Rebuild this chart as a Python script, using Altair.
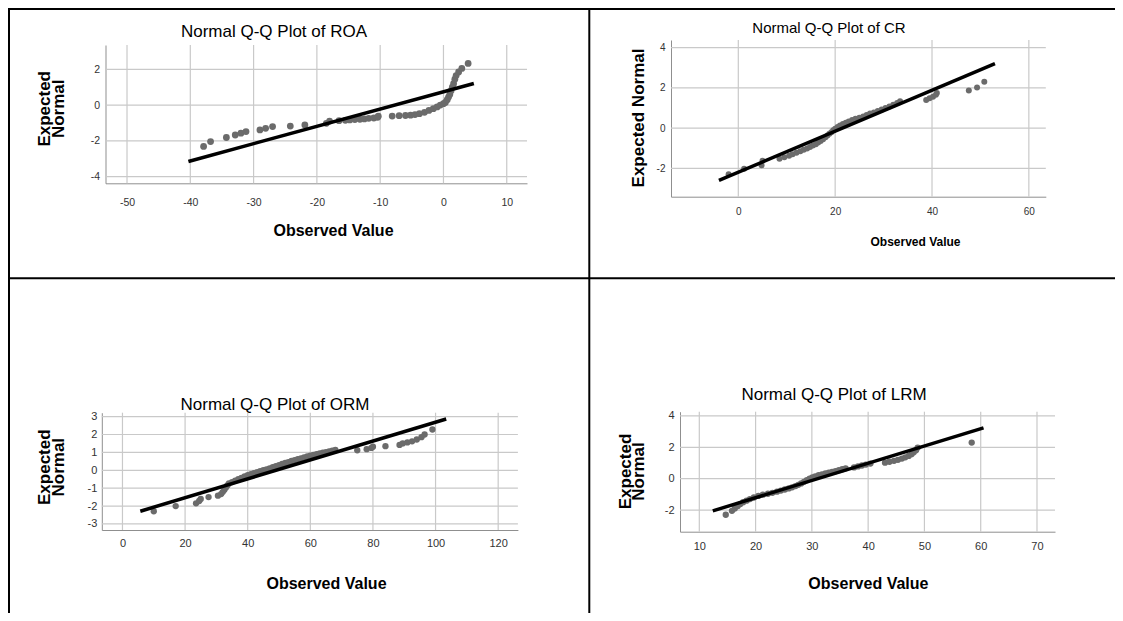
import altair as alt
import pandas as pd

W, H = 1107, 605
FONT = "Liberation Sans"

# ---------------- data ----------------
roa_x = [-37.9, -36.8, -34.3, -32.9, -32.0, -31.2, -29.0, -28.1, -27.0, -24.2, -21.9, -18.5, -18.0,
         -16.5, -15.5, -14.8, -14.0, -13.2, -12.5, -11.8, -11.0, -10.4, -10.3,
         -8.1, -7.0, -6.0, -5.2, -4.5, -3.8, -3.0, -2.3, -1.6, -1.0, -0.5, 0.0, 0.3, 0.6, 0.8,
         1.0, 1.2, 1.4, 1.6, 1.8, 2.0, 2.4, 2.9, 3.9]
roa_y = [-2.31, -2.04, -1.81, -1.67, -1.57, -1.48, -1.39, -1.30, -1.20, -1.17, -1.11, -1.02, -0.89,
         -0.87, -0.85, -0.83, -0.81, -0.79, -0.77, -0.74, -0.72, -0.68, -0.62,
         -0.61, -0.59, -0.58, -0.56, -0.53, -0.48, -0.40, -0.30, -0.20, -0.10, 0.00, 0.08, 0.15, 0.30, 0.45,
         0.60, 0.80, 1.00, 1.20, 1.45, 1.65, 1.85, 2.05, 2.33]
roa_line_x = [-40.3, 4.8]
roa_line_y = [-3.15, 1.21]

cr_x = [-2.0, 1.2, 4.8, 5.0, 8.5, 9.5, 10.5, 11.2, 12.0, 12.8, 13.5, 14.2, 14.8, 15.4, 16.0, 16.5,
        17.0, 17.5, 18.0, 18.4, 18.8, 19.2, 19.6, 20.0, 20.5, 21.0, 21.6, 22.2, 22.8, 23.5, 24.2,
        25.0, 25.8, 26.5, 27.2, 28.0, 28.8, 29.6, 30.4, 31.2, 32.0, 32.8, 33.4, 38.8, 39.5, 40.2,
        40.8, 41.0, 47.6, 49.3, 50.8]
cr_y = [-2.30, -2.02, -1.85, -1.62, -1.52, -1.45, -1.38, -1.30, -1.22, -1.15, -1.08, -1.01, -0.94,
        -0.87, -0.80, -0.72, -0.64, -0.55, -0.46, -0.37, -0.28, -0.20, -0.11, -0.03, 0.05, 0.13,
        0.20, 0.27, 0.33, 0.40, 0.46, 0.52, 0.58, 0.65, 0.72, 0.78, 0.85, 0.92, 1.00, 1.08, 1.16,
        1.25, 1.33, 1.40, 1.48, 1.56, 1.66, 1.75, 1.87, 2.02, 2.30]
cr_line_x = [-4.0, 53.0]
cr_line_y = [-2.6, 3.21]

orm_x = [10, 17, 23.5, 24.5, 25, 27.5, 30.5, 31.5, 32, 32.5, 33, 33.5, 34, 35, 36, 37, 38, 39, 40,
         41, 42, 43, 44, 45, 46, 47, 48, 49, 50, 51, 52, 53, 54, 55, 56, 57, 58, 59, 60, 61, 62, 63,
         64, 65, 66, 67, 68, 75, 78, 79.5, 80, 84, 88.5, 89.5, 91, 92.5, 94, 95.5, 96.5, 99]
orm_y = [-2.29, -2.00, -1.85, -1.72, -1.60, -1.50, -1.42, -1.33, -1.22, -1.10, -0.98, -0.85, -0.74,
         -0.66, -0.58, -0.50, -0.42, -0.35, -0.28, -0.22, -0.16, -0.10, -0.05, 0.00, 0.05, 0.11,
         0.17, 0.23, 0.29, 0.35, 0.41, 0.46, 0.52, 0.57, 0.62, 0.67, 0.72, 0.77, 0.82, 0.86, 0.90,
         0.94, 0.98, 1.02, 1.06, 1.10, 1.14, 1.12, 1.18, 1.25, 1.32, 1.35, 1.42, 1.50, 1.56, 1.62,
         1.72, 1.85, 2.00, 2.28]
orm_line_x = [5.7, 103.4]
orm_line_y = [-2.29, 2.87]

lrm_x = [14.7, 15.8, 16.3, 16.8, 17.3, 17.8, 18.4, 19.0, 19.7, 20.5, 21.3, 22.2, 23.0, 23.8, 24.5,
         25.2, 25.9, 26.5, 27.1, 27.6, 28.1, 28.6, 29.1, 29.6, 30.1, 30.6, 31.2, 31.8, 32.4, 33.0,
         33.6, 34.2, 34.8, 35.4, 36.0, 37.5, 38.2, 38.9, 39.6, 40.4, 43.0, 43.8, 44.6, 45.3, 46.0,
         46.6, 47.2, 47.7, 48.1, 48.5, 48.8, 58.4]
lrm_y = [-2.30, -2.05, -1.90, -1.75, -1.62, -1.50, -1.40, -1.30, -1.20, -1.10, -1.02, -0.96, -0.90,
         -0.83, -0.76, -0.69, -0.62, -0.55, -0.47, -0.39, -0.30, -0.20, -0.10, 0.00, 0.08, 0.15,
         0.22, 0.28, 0.33, 0.38, 0.43, 0.48, 0.54, 0.60, 0.66, 0.72, 0.78, 0.84, 0.90, 0.96, 1.02,
         1.08, 1.14, 1.20, 1.28, 1.36, 1.45, 1.56, 1.68, 1.82, 1.98, 2.30]
lrm_line_x = [12.4, 60.5]
lrm_line_y = [-2.05, 3.24]

panel_titles = ["Normal Q-Q Plot of ROA", "Normal Q-Q Plot of CR",
                "Normal Q-Q Plot of ORM", "Normal Q-Q Plot of LRM"]
x_title = "Observed Value"
y_title_two = ["Expected", "Normal"]
y_title_one = "Expected Normal"

roa_xticks = [-50, -40, -30, -20, -10, 0, 10]
roa_yticks = [-4, -2, 0, 2]
cr_xticks = [0, 20, 40, 60]
cr_yticks = [-2, 0, 2, 4]
orm_xticks = [0, 20, 40, 60, 80, 100, 120]
orm_yticks = [-3, -2, -1, 0, 1, 2, 3]
lrm_xticks = [10, 20, 30, 40, 50, 60, 70]
lrm_yticks = [-2, 0, 2, 4]

GRID = "#c9c9c9"
DOMAIN = "#8f8f8f"
PT = "#6b6b6b"


def panel(xs, ys, lx, ly, xdom, ydom, xr, yr, xticks, yticks, ytitle,
          ytitle_pos, xtitle_pos, tick_fs, xtitle_fs, ytitle_fs, xlab_pad, ylab_pad, pt_size):
    pts = pd.DataFrame({"x": xs, "y": ys})
    ln = pd.DataFrame({"x": lx, "y": ly})
    sx = alt.Scale(domain=xdom, range=xr, nice=False, zero=False)
    sy = alt.Scale(domain=ydom, range=yr, nice=False, zero=False)

    xaxis = alt.Axis(orient="bottom", offset=yr[0] - H, values=xticks, grid=False, ticks=False,
                     domainColor=DOMAIN, domainWidth=1, labelFont=FONT, labelFontSize=tick_fs,
                     labelColor="#333333", labelPadding=xlab_pad, labelExpr="'' + datum.value",
                     title=x_title, titleFont=FONT, titleFontSize=xtitle_fs, titleFontWeight="bold",
                     titleColor="#000000", titleX=xtitle_pos[0], titleY=xtitle_pos[1] - yr[0],
                     titleAlign="center", titleBaseline="middle", labelFlush=False, labelOverlap=False)
    yaxis = alt.Axis(orient="left", offset=-xr[0], values=yticks, grid=False, ticks=False,
                     domainColor=DOMAIN, domainWidth=1, labelFont=FONT, labelFontSize=tick_fs,
                     labelColor="#333333", labelPadding=ylab_pad, labelExpr="'' + datum.value",
                     title=ytitle, titleFont=FONT, titleFontSize=ytitle_fs, titleFontWeight="bold",
                     titleColor="#000000", titleX=ytitle_pos[0] - xr[0], titleY=ytitle_pos[1],
                     titleAngle=270, titleAlign="center", titleBaseline="middle",
                     titleLineHeight=13.5, labelFlush=False, labelOverlap=False)

    vgrid = alt.Chart(pd.DataFrame({"v": xticks})).mark_rule(color=GRID, strokeWidth=1.2).encode(
        x=alt.X("v:Q", scale=sx, axis=xaxis),
        y=alt.Y(datum=ydom[0], scale=sy, axis=yaxis),
        y2=alt.Y2(datum=ydom[1]),
    )
    hgrid = alt.Chart(pd.DataFrame({"v": yticks})).mark_rule(color=GRID, strokeWidth=1.2).encode(
        y=alt.Y("v:Q", scale=sy, axis=yaxis),
        x=alt.X(datum=xdom[0], scale=sx, axis=xaxis),
        x2=alt.X2(datum=xdom[1]),
    )
    points = alt.Chart(pts).mark_circle(color=PT, opacity=1, size=pt_size).encode(
        x=alt.X("x:Q", scale=sx, axis=xaxis),
        y=alt.Y("y:Q", scale=sy, axis=yaxis),
    )
    line = alt.Chart(ln).mark_line(color="#000000", strokeWidth=3.5).encode(
        x=alt.X("x:Q", scale=sx, axis=xaxis),
        y=alt.Y("y:Q", scale=sy, axis=yaxis),
    )
    return alt.layer(vgrid, hgrid, points, line)


p1 = panel(roa_x, roa_y, roa_line_x, roa_line_y, [-53.4, 13.2], [-4.37, 3.36],
           [97.5, 519], [175.3, 37], roa_xticks, roa_yticks, y_title_two,
           (36.5, 100.3), (325, 222), 10.5, 16, 17, 14, 6, 46)
p2 = panel(cr_x, cr_y, cr_line_x, cr_line_y, [-13.9, 63.5], [-3.41, 4.38],
           [663, 1037.8], [188.7, 32], cr_xticks, cr_yticks, y_title_one,
           (630.3, 109.5), (907, 233.7), 10, 12, 17, 10, 6, 36)
p3 = panel(orm_x, orm_y, orm_line_x, orm_line_y, [-6.6, 126.3], [-3.34, 3.22],
           [93.8, 509.9], [522, 404.7], orm_xticks, orm_yticks, y_title_two,
           (36.5, 458.7), (318, 575.3), 11, 16, 17, 7, 5, 40)
p4 = panel(lrm_x, lrm_y, lrm_line_x, lrm_line_y, [6.57, 73.2], [-3.38, 4.27],
           [672, 1047], [523.7, 403.7], lrm_xticks, lrm_yticks, y_title_two,
           (617, 463), (859.9, 575.3), 11, 16, 17, 9, 6, 40)


def title_text(txt, x, y, fs):
    return alt.Chart(pd.DataFrame({"t": [txt]})).mark_text(
        font=FONT, fontSize=fs, color="#000000", align="center", baseline="middle"
    ).encode(text="t:N", x=alt.value(x), y=alt.value(y))


t1 = title_text(panel_titles[0], 266, 24, 17)
t2 = title_text(panel_titles[1], 821, 19.5, 15)
t3 = title_text(panel_titles[2], 267, 397, 17)
t4 = title_text(panel_titles[3], 826, 387, 17)

one = pd.DataFrame({"k": [0]})
border_top = alt.Chart(one).mark_rule(color="#000000", strokeWidth=2).encode(
    x=alt.value(0), x2=alt.value(W), y=alt.value(1))
border_left = alt.Chart(one).mark_rule(color="#000000", strokeWidth=2).encode(
    x=alt.value(1), y=alt.value(0), y2=alt.value(H))
border_mid_v = alt.Chart(one).mark_rule(color="#000000", strokeWidth=2).encode(
    x=alt.value(581.3), y=alt.value(0), y2=alt.value(H))
border_mid_h = alt.Chart(one).mark_rule(color="#000000", strokeWidth=2).encode(
    x=alt.value(0), x2=alt.value(W), y=alt.value(270.3))

chart = alt.layer(
    p1, p2, p3, p4, t1, t2, t3, t4, border_top, border_left, border_mid_v, border_mid_h
).resolve_scale(x="independent", y="independent").resolve_axis(
    x="independent", y="independent"
).properties(
    width=W, height=H, autosize=alt.AutoSizeParams(type="none"), padding=0
).configure_view(stroke=None).configure(background="white")

chart.save("out.html", embed_options={"renderer": "svg", "actions": False})
